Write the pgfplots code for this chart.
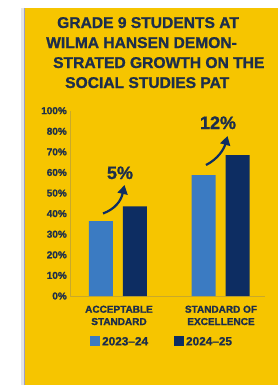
\documentclass[border=0pt]{standalone}
\usepackage{pgfplots}
\pgfplotsset{compat=1.18}
\usepackage{fontspec}
\setmainfont{Liberation Sans}[BoldFeatures={FakeBold=1.2}]
\usetikzlibrary{arrows.meta}
\definecolor{bgyellow}{HTML}{F6C500}
\definecolor{lightbar}{HTML}{3B7BC2}
\definecolor{darkbar}{HTML}{0D2D62}
\definecolor{txt}{HTML}{1D2E4B}
\definecolor{axline}{HTML}{C9A92A}
\pgfplotstableread{
x y
0 36.4
1 58.7
}\first
\pgfplotstableread{
x y
0 43.5
1 68.4
}\second
\begin{document}
\begin{tikzpicture}[x=1bp,y=1bp]
\fill[white] (0,0) rectangle (278,385);
\fill[gray!20] (21,0) rectangle (25,377);
\fill[bgyellow] (25,0) rectangle (278,377);
\fill[blue!25!gray!60] (24,0) rectangle (25,377);
% title
\begin{scope}[every node/.style={anchor=base west, inner sep=0pt, text=txt, font=\fontsize{15.6bp}{18bp}\selectfont\bfseries}]
\node at (57,357) {GRADE 9 STUDENTS AT};
\node at (46,337) {WILMA HANSEN DEMON-};
\node at (53,317) {STRATED GROWTH ON THE};
\node at (65,297) {SOCIAL STUDIES PAT};
\end{scope}
\begin{axis}[
  at={(70bp,89bp)}, anchor=south west,
  scale only axis, width=195bp, height=185.3bp,
  xmin=-0.468, xmax=1.434, ymin=0, ymax=90,
  ybar=10bp, bar width=24bp,
  axis x line*=bottom, axis y line*=left,
  axis line style={axline, line width=0.8bp},
  axis line style={-},
  xtick=data, xticklabels={}, major tick length=0pt,
  xtick style={draw=none}, ytick style={draw=none},
  ytick={0,10,20,30,40,50,60,70,80,90},
  yticklabels={0\%,10\%,20\%,30\%,40\%,50\%,60\%,70\%,80\%,100\%},
  yticklabel style={text=txt, font=\fontsize{10bp}{12bp}\selectfont\bfseries, inner sep=0pt, xshift=-3bp},
  /pgf/number format/assume math mode=true,
  legend columns=2,
  legend style={at={(rel axis cs:0.087,-0.248)}, anchor=west, draw=none, fill=none,
    font=\fontsize{11.8bp}{13bp}\selectfont\bfseries, text=txt,
    /tikz/every even column/.append style={column sep=24bp}},
  legend image code/.code={\fill[#1,draw=none] (0bp,-4.5bp) rectangle (10bp,5.5bp);},
]
\addplot[fill=lightbar, draw=none] table[x=x,y=y]{\first};
\addplot[fill=darkbar, draw=none] table[x=x,y=y]{\second};
\legend{2023--24,2024--25}
\end{axis}
% category labels
\begin{scope}[every node/.style={anchor=base, inner sep=0pt, text=txt, align=center, font=\fontsize{10bp}{12.5bp}\selectfont\bfseries}]
\node at (119,72.3) {ACCEPTABLE};
\node at (119,60) {STANDARD};
\node at (221,72.3) {STANDARD OF};
\node at (221,60) {EXCELLENCE};
\end{scope}
% annotations
\node[anchor=base, inner sep=0pt, text=txt, font=\fontsize{18bp}{20bp}\selectfont\bfseries] at (120,206) {5\%};
\node[anchor=base, inner sep=0pt, text=txt, font=\fontsize{18bp}{20bp}\selectfont\bfseries] at (218,256) {12\%};
\draw[darkbar, line width=2.2bp, -{Triangle[width=10bp,length=9bp]}] (103,171.5) .. controls (115,176) and (121,184) .. (124.5,200);
\draw[darkbar, line width=2.2bp, -{Triangle[width=10bp,length=9bp]}] (206,220) .. controls (218,226) and (224,236) .. (227.5,249);
\end{tikzpicture}
\end{document}
